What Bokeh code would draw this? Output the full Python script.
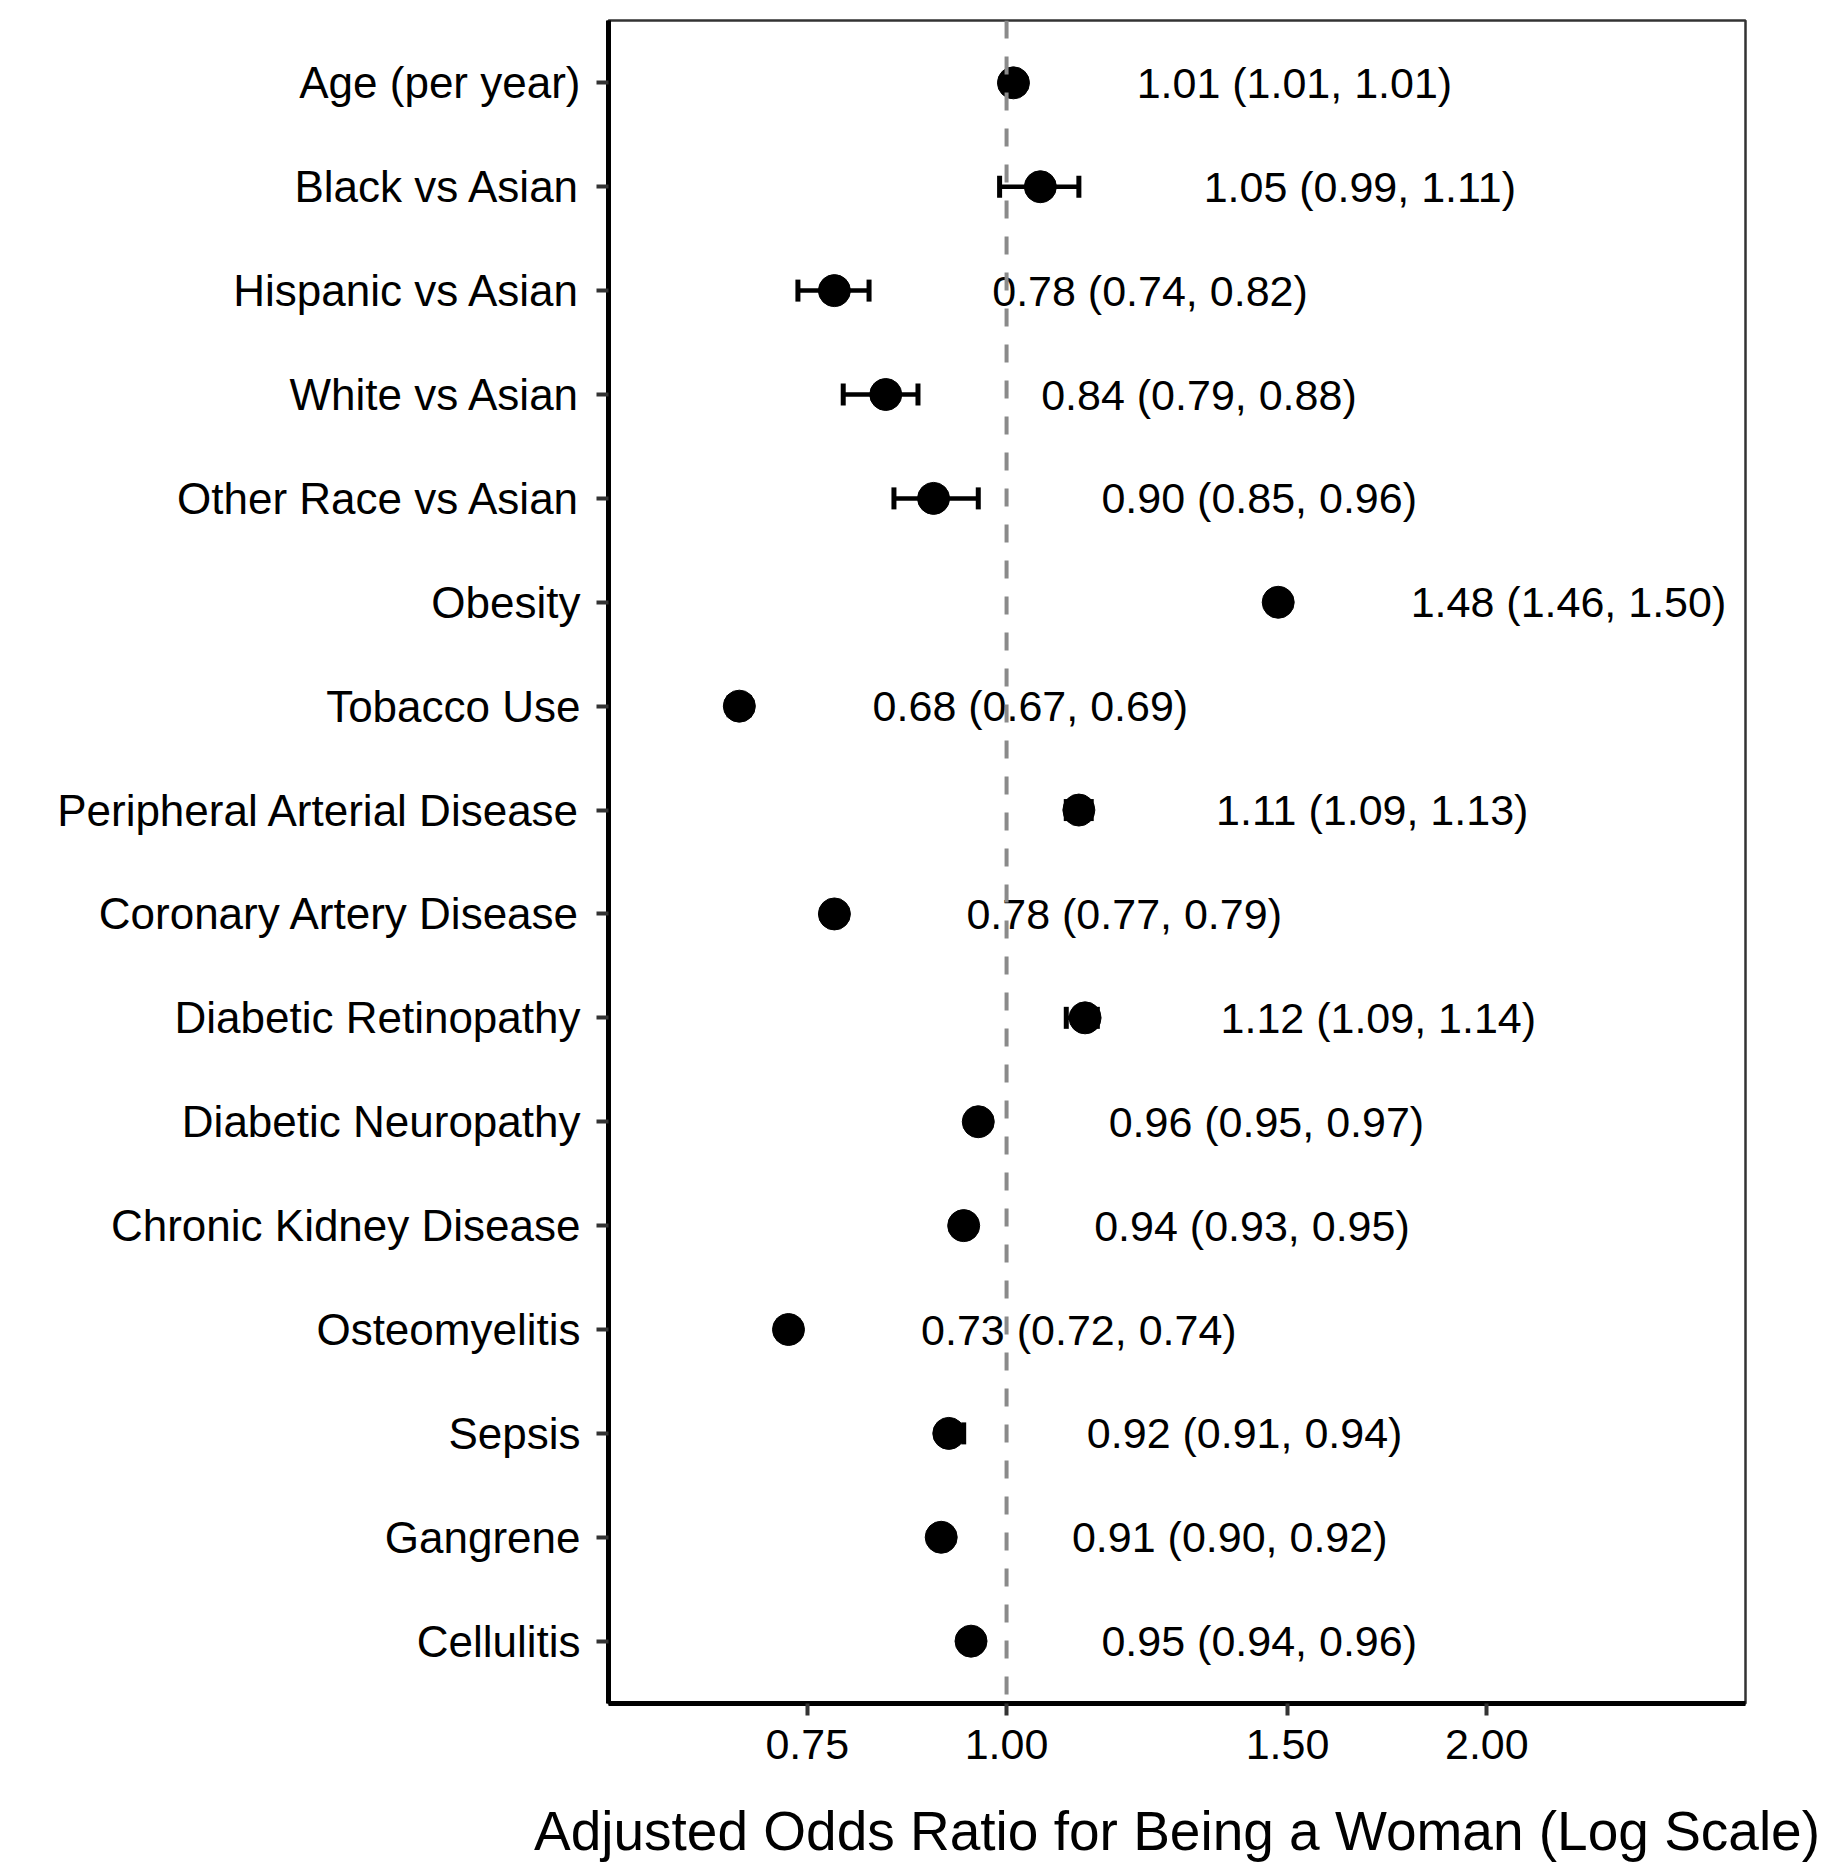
from bokeh.plotting import figure
from bokeh.models import Range1d, FixedTicker, ColumnDataSource, Span, Whisker, TeeHead, PrintfTickFormatter
from bokeh.embed import file_html
from bokeh.resources import INLINE
from bokeh.core.properties import value

categories = [
    "Age (per year)", "Black vs Asian", "Hispanic vs Asian", "White vs Asian",
    "Other Race vs Asian", "Obesity", "Tobacco Use", "Peripheral Arterial Disease",
    "Coronary Artery Disease", "Diabetic Retinopathy", "Diabetic Neuropathy",
    "Chronic Kidney Disease", "Osteomyelitis", "Sepsis", "Gangrene", "Cellulitis",
]
odds = [1.01, 1.05, 0.78, 0.84, 0.90, 1.48, 0.68, 1.11, 0.78, 1.12, 0.96, 0.94, 0.73, 0.92, 0.91, 0.95]
lower = [1.01, 0.99, 0.74, 0.79, 0.85, 1.46, 0.67, 1.09, 0.77, 1.09, 0.95, 0.93, 0.72, 0.91, 0.90, 0.94]
upper = [1.01, 1.11, 0.82, 0.88, 0.96, 1.50, 0.69, 1.13, 0.79, 1.14, 0.97, 0.95, 0.74, 0.94, 0.92, 0.96]
x_ticks = [0.75, 1.0, 1.5, 2.0]

n = len(categories)
ypos = list(range(n, 0, -1))
labels = [f"{o:.2f} ({l:.2f}, {u:.2f})" for o, l, u in zip(odds, lower, upper)]
label_x = [u * 1.5 for u in upper]

src = ColumnDataSource(dict(y=ypos, odds=odds, lower=lower, upper=upper, label=labels, lx=label_x))

FONT = "Liberation Sans"

p = figure(width=1827, height=1867, x_axis_type="log",
           x_range=Range1d(0.563, 2.905), y_range=Range1d(0.4, n + 0.6),
           output_backend="svg", toolbar_location=None,
           min_border_left=608, min_border_right=82, min_border_top=20, min_border_bottom=164)

p.xgrid.visible = False
p.ygrid.visible = False
p.background_fill_color = "white"
p.border_fill_color = "white"
p.outline_line_color = "#333333"
p.outline_line_width = 2.5

p.add_layout(Span(location=1.0, dimension="height", line_color="#8a8a8a",
                  line_width=4, line_dash="18 18"))

w = Whisker(source=src, base="y", lower="lower", upper="upper", dimension="width",
            line_color="black", line_width=4.5,
            lower_head=TeeHead(size=22, line_width=5, line_color="black"),
            upper_head=TeeHead(size=22, line_width=5, line_color="black"))
p.add_layout(w)

p.scatter(x="odds", y="y", source=src, size=32, color="black")

p.text(x="lx", y="y", text="label", source=src, text_align="center", text_baseline="middle",
       text_font=value(FONT), text_font_size="43px", text_color="black")

# y axis
p.yaxis.ticker = FixedTicker(ticks=ypos)
p.yaxis.major_label_overrides = {y: c for y, c in zip(ypos, categories)}
p.yaxis.major_label_text_font = FONT
p.yaxis.major_label_text_font_size = "44px"
p.yaxis.major_label_text_color = "black"
p.yaxis.major_label_standoff = 16
p.yaxis.minor_tick_line_color = None

# x axis
p.xaxis.ticker = FixedTicker(ticks=x_ticks)
p.xaxis.formatter = PrintfTickFormatter(format="%.2f")
p.xaxis.major_label_text_font = FONT
p.xaxis.major_label_text_font_size = "43px"
p.xaxis.major_label_text_color = "black"
p.xaxis.major_label_standoff = 14
p.xaxis.minor_tick_line_color = None
p.xaxis.axis_label = "Adjusted Odds Ratio for Being a Woman (Log Scale)"
p.xaxis.axis_label_text_font = FONT
p.xaxis.axis_label_text_font_size = "55px"
p.xaxis.axis_label_text_font_style = "normal"
p.xaxis.axis_label_text_color = "black"
p.xaxis.axis_label_standoff = 38

for ax in (p.xaxis, p.yaxis):
    ax.axis_line_color = "black"
    ax.axis_line_width = 5
    ax.major_tick_out = 12
    ax.major_tick_in = 0
    ax.major_tick_line_width = 4
    ax.major_tick_line_color = "#333333"

open("out.html", "w").write(file_html(p, INLINE))
